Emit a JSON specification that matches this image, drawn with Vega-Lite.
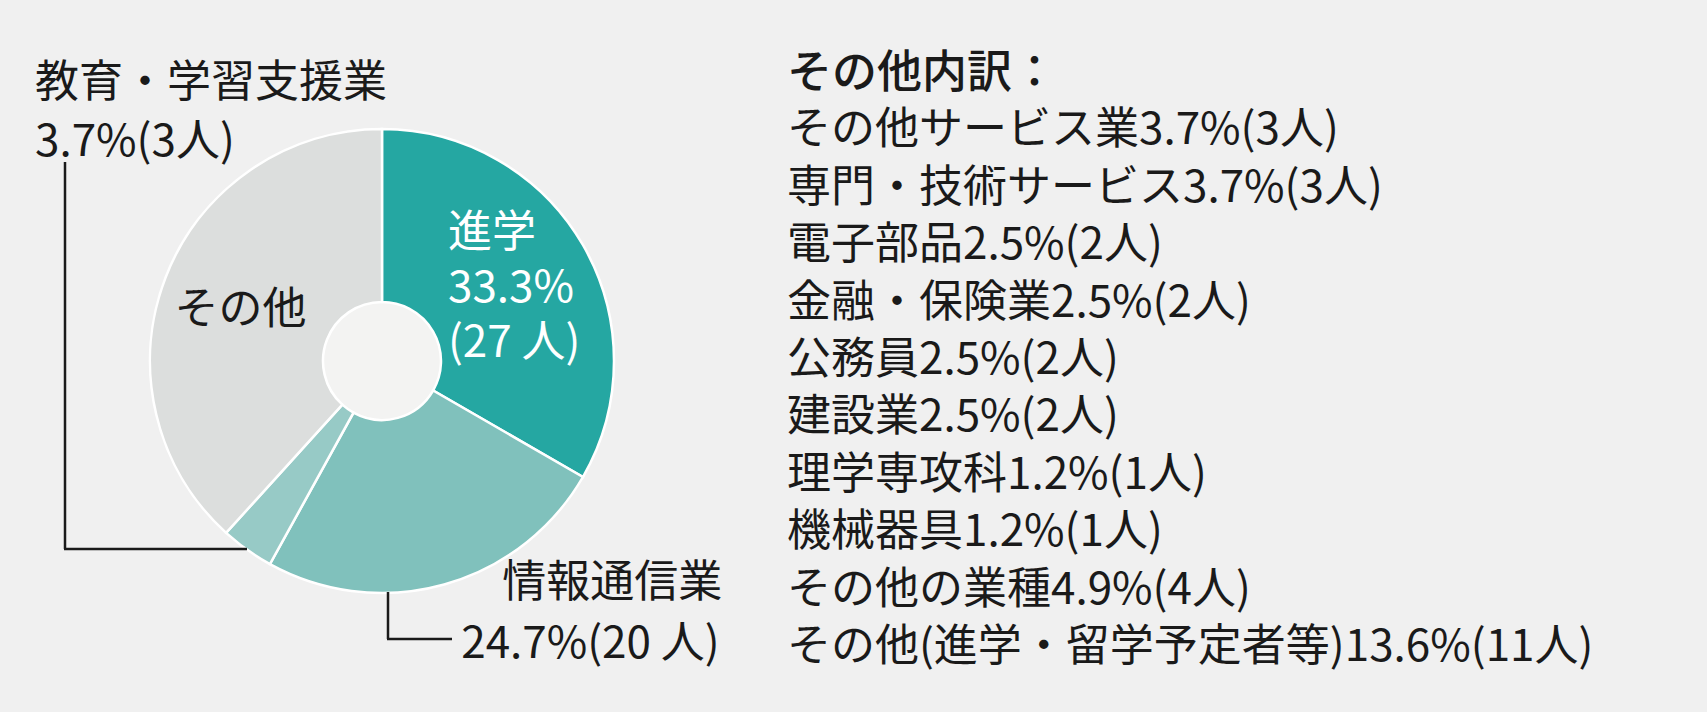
{
  "$schema": "https://vega.github.io/schema/vega-lite/v6.json",
  "background": "#F0F0F0",
  "padding": {"top": 10, "left": 0, "right": 0, "bottom": 0},
  "spacing": 23,
  "config": {
    "view": {"stroke": null},
    "font": "Noto Sans CJK JP",
    "text": {"font": "Noto Sans CJK JP", "color": "#1A1A1A", "fontSize": 44, "baseline": "middle"}
  },
  "datasets": {
    "pie": [
      {"cat": "進学", "count": 27, "order": 1, "l1": "進学", "l2": "33.3%", "l3": "(27 人)"},
      {"cat": "情報通信業", "count": 20, "order": 2, "l1": "情報通信業", "l2": "24.7%(20 人)", "l3": ""},
      {"cat": "教育・学習支援業", "count": 3, "order": 3, "l1": "教育・学習支援業", "l2": "3.7%(3人)", "l3": ""},
      {"cat": "その他", "count": 31, "order": 4, "l1": "その他", "l2": "", "l3": ""}
    ],
    "others": [
      {"item": "その他サービス業", "pct": 3.7, "count": 3, "label": "その他サービス業3.7%(3人)"},
      {"item": "専門・技術サービス", "pct": 3.7, "count": 3, "label": "専門・技術サービス3.7%(3人)"},
      {"item": "電子部品", "pct": 2.5, "count": 2, "label": "電子部品2.5%(2人)"},
      {"item": "金融・保険業", "pct": 2.5, "count": 2, "label": "金融・保険業2.5%(2人)"},
      {"item": "公務員", "pct": 2.5, "count": 2, "label": "公務員2.5%(2人)"},
      {"item": "建設業", "pct": 2.5, "count": 2, "label": "建設業2.5%(2人)"},
      {"item": "理学専攻科", "pct": 1.2, "count": 1, "label": "理学専攻科1.2%(1人)"},
      {"item": "機械器具", "pct": 1.2, "count": 1, "label": "機械器具1.2%(1人)"},
      {"item": "その他の業種", "pct": 4.9, "count": 4, "label": "その他の業種4.9%(4人)"},
      {"item": "その他(進学・留学予定者等)", "pct": 13.6, "count": 11, "label": "その他(進学・留学予定者等)13.6%(11人)"}
    ],
    "title": [
      {"label": "その他内訳："}
    ]
  },
  "hconcat": [
    {
      "width": 764,
      "height": 702,
      "data": {"name": "pie"},
      "layer": [
        {
          "transform": [{"aggregate": [{"op": "sum", "field": "count", "as": "total"}]}],
          "mark": {"type": "arc", "outerRadius": 59, "fill": "#F3F3F2", "strokeWidth": 0},
          "encoding": {"theta": {"field": "total", "type": "quantitative"}}
        },
        {
          "mark": {"type": "arc", "outerRadius": 232, "innerRadius": 59, "stroke": "#FFFFFF", "strokeWidth": 2.5},
          "encoding": {
            "theta": {"field": "count", "type": "quantitative", "stack": true},
            "order": {"field": "order", "type": "quantitative"},
            "color": {
              "field": "cat",
              "type": "nominal",
              "scale": {
                "domain": ["進学", "情報通信業", "教育・学習支援業", "その他"],
                "range": ["#25A7A2", "#80C1BC", "#97CAC6", "#DCDEDD"]
              },
              "legend": null
            }
          }
        },
        {
          "mark": {"type": "text", "radius": 142, "align": "left", "dx": -57, "dy": -56, "color": "#FFFFFF"},
          "encoding": {
            "theta": {"field": "count", "type": "quantitative", "stack": true},
            "order": {"field": "order", "type": "quantitative"},
            "text": {"field": "l1", "condition": {"test": "datum.cat !== '進学'", "value": ""}}
          }
        },
        {
          "mark": {"type": "text", "radius": 142, "align": "left", "dx": -57, "dy": -1, "color": "#FFFFFF"},
          "encoding": {
            "theta": {"field": "count", "type": "quantitative", "stack": true},
            "order": {"field": "order", "type": "quantitative"},
            "text": {"field": "l2", "condition": {"test": "datum.cat !== '進学'", "value": ""}}
          }
        },
        {
          "mark": {"type": "text", "radius": 142, "align": "left", "dx": -57, "dy": 54, "color": "#FFFFFF"},
          "encoding": {
            "theta": {"field": "count", "type": "quantitative", "stack": true},
            "order": {"field": "order", "type": "quantitative"},
            "text": {"field": "l3", "condition": {"test": "datum.cat !== '進学'", "value": ""}}
          }
        },
        {
          "mark": {"type": "text", "radius": 143, "align": "center", "dx": -8, "dy": 2},
          "encoding": {
            "theta": {"field": "count", "type": "quantitative", "stack": true},
            "order": {"field": "order", "type": "quantitative"},
            "text": {"field": "l1", "condition": {"test": "datum.cat !== 'その他'", "value": ""}}
          }
        },
        {
          "mark": {"type": "text", "radius": 0, "align": "left", "dx": -347, "dy": -277},
          "encoding": {
            "theta": {"field": "count", "type": "quantitative", "stack": true},
            "order": {"field": "order", "type": "quantitative"},
            "text": {"field": "l1", "condition": {"test": "datum.cat !== '教育・学習支援業'", "value": ""}}
          }
        },
        {
          "mark": {"type": "text", "radius": 0, "align": "left", "dx": -347, "dy": -218},
          "encoding": {
            "theta": {"field": "count", "type": "quantitative", "stack": true},
            "order": {"field": "order", "type": "quantitative"},
            "text": {"field": "l2", "condition": {"test": "datum.cat !== '教育・学習支援業'", "value": ""}}
          }
        },
        {
          "mark": {"type": "text", "radius": 232, "align": "left", "dx": 58, "dy": -1},
          "encoding": {
            "theta": {"field": "count", "type": "quantitative", "stack": true},
            "order": {"field": "order", "type": "quantitative"},
            "text": {"field": "l1", "condition": {"test": "datum.cat !== '情報通信業'", "value": ""}}
          }
        },
        {
          "mark": {"type": "text", "radius": 232, "align": "left", "dx": 17, "dy": 60},
          "encoding": {
            "theta": {"field": "count", "type": "quantitative", "stack": true},
            "order": {"field": "order", "type": "quantitative"},
            "text": {"field": "l2", "condition": {"test": "datum.cat !== '情報通信業'", "value": ""}}
          }
        },
        {
          "data": {"values": [{}]},
          "mark": {"type": "rule", "stroke": "#1A1A1A", "strokeWidth": 2.5},
          "encoding": {"x": {"value": 65}, "y": {"value": 152}, "y2": {"value": 539}}
        },
        {
          "data": {"values": [{}]},
          "mark": {"type": "rule", "stroke": "#1A1A1A", "strokeWidth": 2.5},
          "encoding": {"y": {"value": 539}, "x": {"value": 64}, "x2": {"value": 247}}
        },
        {
          "data": {"values": [{}]},
          "mark": {"type": "rule", "stroke": "#1A1A1A", "strokeWidth": 2.5},
          "encoding": {"x": {"value": 388}, "y": {"value": 582}, "y2": {"value": 629}}
        },
        {
          "data": {"values": [{}]},
          "mark": {"type": "rule", "stroke": "#1A1A1A", "strokeWidth": 2.5},
          "encoding": {"y": {"value": 629}, "x": {"value": 387}, "x2": {"value": 452}}
        }
      ]
    },
    {
      "width": 920,
      "height": 702,
      "layer": [
        {
          "data": {"name": "title"},
          "mark": {"type": "text", "align": "left", "fontSize": 45, "fontWeight": 500},
          "encoding": {
            "x": {"datum": 0, "type": "quantitative", "scale": {"domain": [0, 1]}, "axis": null},
            "y": {
              "field": "label",
              "type": "nominal",
              "axis": null,
              "scale": {
                "type": "point",
                "padding": 0,
                "range": [64, 638],
                "domain": [
                  "その他内訳：",
                  "その他サービス業3.7%(3人)",
                  "専門・技術サービス3.7%(3人)",
                  "電子部品2.5%(2人)",
                  "金融・保険業2.5%(2人)",
                  "公務員2.5%(2人)",
                  "建設業2.5%(2人)",
                  "理学専攻科1.2%(1人)",
                  "機械器具1.2%(1人)",
                  "その他の業種4.9%(4人)",
                  "その他(進学・留学予定者等)13.6%(11人)"
                ]
              }
            },
            "text": {"field": "label"}
          }
        },
        {
          "data": {"name": "others"},
          "mark": {"type": "text", "align": "left", "fontSize": 44},
          "encoding": {
            "x": {"datum": 0, "type": "quantitative", "axis": null},
            "y": {"field": "label", "type": "nominal", "axis": null},
            "text": {"field": "label"}
          }
        }
      ]
    }
  ]
}
